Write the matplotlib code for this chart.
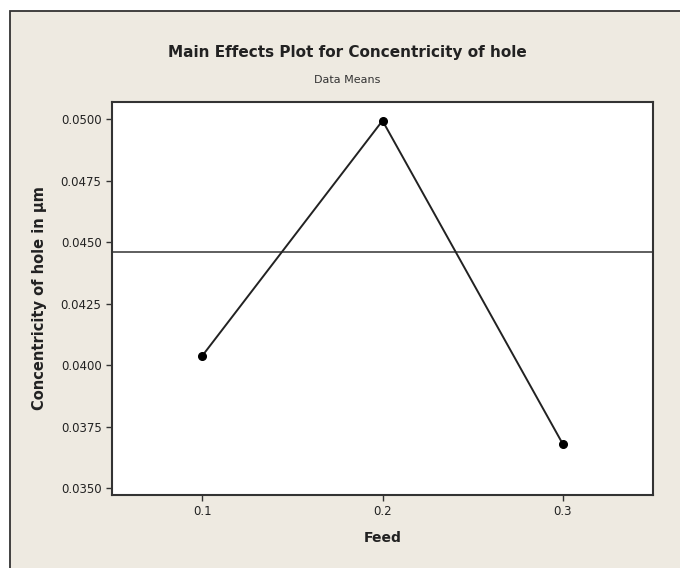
import matplotlib
matplotlib.use("Agg")
import matplotlib.pyplot as plt
from matplotlib.patches import Rectangle

# Main effects plot (Minitab style)
feed = [0.1, 0.2, 0.3]
mean_concentricity = [0.04037, 0.04993, 0.03679]
overall_mean = 0.04459
y_ticks = [0.0350, 0.0375, 0.0400, 0.0425, 0.0450, 0.0475, 0.0500]

fig = plt.figure(figsize=(6.8, 5.68), dpi=100)
fig.patch.set_facecolor("white")

# beige graph region with a frame on the left and top
fig.patches.append(Rectangle((10 / 680, -0.01), 1.0, 1 - 11 / 568 + 0.01,
                             transform=fig.transFigure, facecolor="#eeeae1",
                             edgecolor="#333333", linewidth=1.3, zorder=-5))

ax = fig.add_axes([112 / 680, 1 - 495 / 568, (653 - 112) / 680, (495 - 102) / 568])
ax.set_zorder(2)
ax.set_facecolor("white")

ax.axhline(overall_mean, color="#333333", linewidth=1.1, zorder=1)
ax.plot(feed, mean_concentricity, color="#222222", linewidth=1.4,
        marker="o", markersize=5.5, markerfacecolor="black",
        markeredgecolor="black", zorder=2)

ax.set_xlim(0.05, 0.35)
ax.set_ylim(0.03472, 0.05069)
ax.set_xticks(feed)
ax.set_xticklabels(["0.1", "0.2", "0.3"])
ax.set_yticks(y_ticks)
ax.set_yticklabels(["%.4f" % v for v in y_ticks])
ax.tick_params(direction="out", length=4, width=1, colors="#333333",
               labelsize=8.5, labelcolor="#222222")
for side in ["left", "right", "top", "bottom"]:
    ax.spines[side].set_color("#333333")
    ax.spines[side].set_linewidth(1.5)

ax.set_xlabel("Feed", fontsize=10, fontweight="bold", color="#222222", labelpad=9)
ax.set_ylabel("Concentricity of hole in μm", fontsize=10.5, fontweight="bold",
              color="#222222", labelpad=10)

fig.text(347 / 680, 1 - 53 / 568, "Main Effects Plot for Concentricity of hole",
         ha="center", va="center", fontsize=11, fontweight="bold", color="#222222")
fig.text(347 / 680, 1 - 80 / 568, "Data Means", ha="center", va="center",
         fontsize=8, color="#333333")

fig.savefig("out.png", dpi=100)
